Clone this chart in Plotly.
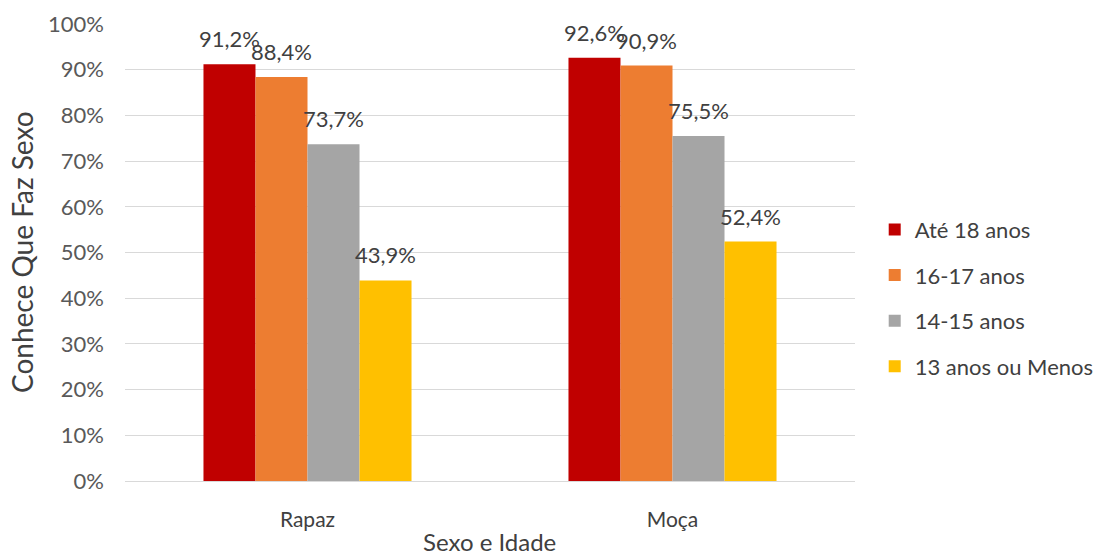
import plotly.graph_objects as go

categories = ["Rapaz", "Moça"]
series_names = ["Até 18 anos", "16-17 anos", "14-15 anos", "13 anos ou Menos"]
series_values = [
    [91.2, 92.6],
    [88.4, 90.9],
    [73.7, 75.5],
    [43.9, 52.4],
]
colors = ["#C00000", "#ED7D31", "#A5A5A5", "#FFC000"]
y_ticks = [0, 10, 20, 30, 40, 50, 60, 70, 80, 90, 100]

FONT = "Lato, 'Open Sans', sans-serif"
W, H = 1097, 559
ML, MR, MT, MB = 125, 242, 24, 78
BARGAP = 0.43

plot_w = W - ML - MR
plot_h = H - MT - MB
cat_px = plot_w / len(categories)
bar_px = cat_px * (1 - BARGAP) / len(series_names)

fig = go.Figure()
annotations = []
n = len(series_names)
for i, (name, vals, col) in enumerate(zip(series_names, series_values, colors)):
    fig.add_trace(go.Bar(
        x=categories, y=vals, name=name, marker=dict(color=col, line=dict(width=0)),
        legendgroup=name, hoverinfo="x+y+name",
    ))
    for c, v in zip(categories, vals):
        annotations.append(dict(
            x=c, y=v, xref="x", yref="y", text=f"{v:.1f}%".replace(".", ","),
            showarrow=False, xanchor="center", yanchor="bottom",
            xshift=(i - (n - 1) / 2) * bar_px, yshift=10,
            font=dict(family=FONT, size=22, color="#404040"),
        ))

# axis titles (pixel positions converted to paper coordinates)
annotations.append(dict(
    x=(22 - ML) / plot_w, y=(H - MB - 252) / plot_h, xref="paper", yref="paper",
    text="Conhece Que Faz Sexo", showarrow=False, textangle=-90,
    xanchor="center", yanchor="middle",
    font=dict(family=FONT, size=28, color="#404040"),
))
annotations.append(dict(
    x=(489 - ML) / plot_w, y=-(H - 1 - (H - MB)) / plot_h, xref="paper", yref="paper",
    text="Sexo e Idade", showarrow=False, xanchor="center", yanchor="bottom",
    font=dict(family=FONT, size=24, color="#404040"),
))

fig.update_layout(
    width=W, height=H,
    margin=dict(l=ML, r=MR, t=MT, b=MB, autoexpand=False),
    paper_bgcolor="white", plot_bgcolor="white",
    barmode="group", bargap=BARGAP, bargroupgap=0,
    font=dict(family=FONT, color="#595959"),
    showlegend=True,
    legend=dict(x=1.027, xanchor="left", y=0.40, yanchor="middle",
                font=dict(family=FONT, size=22, color="#404040"),
                tracegroupgap=14, bgcolor="rgba(0,0,0,0)"),
    annotations=annotations,
)
fig.update_yaxes(
    range=[0, 100], tickvals=y_ticks, ticktext=[f"{v}%" for v in y_ticks],
    showgrid=True, gridcolor="#D9D9D9", gridwidth=1, zeroline=False,
    showline=False, tickfont=dict(family=FONT, size=22, color="#595959"),
    ticklabelstandoff=20, automargin=False, fixedrange=True,
)
fig.update_xaxes(
    showline=True, linecolor="#D9D9D9", linewidth=1,
    tickfont=dict(family=FONT, size=21, color="#404040"),
    ticklabelstandoff=20, automargin=False, fixedrange=True,
)

fig.write_html("out.html")
